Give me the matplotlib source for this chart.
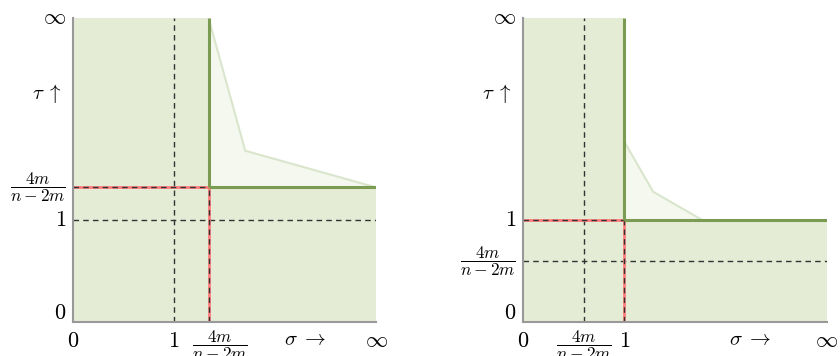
import matplotlib
matplotlib.use("Agg")
import matplotlib.pyplot as plt

plt.rcParams['mathtext.fontset'] = 'cm'
plt.rcParams['font.family'] = 'serif'
plt.rcParams['font.serif'] = ['DejaVu Serif']

FILL = '#e4ecd5'
LIGHT_FILL = '#f5f8ef'
EDGE = '#7b9b52'
CURVE = '#d9e5cc'
FRAC = r'$\dfrac{4m}{n-2m}$'

# schematic positions (axes run from 0 to "infinity" = 1)
# left panel: 1 < 4m/(n-2m)
left_one = 1 / 3
left_thr = 0.447
left_curve_x = [0.447, 0.568, 1.0]
left_curve_y = [1.0, 0.563, 0.442]
left_xticks = [0, left_one, left_thr, 1]
left_xlabels = ['$0$', '$1$', FRAC, r'$\infty$']
left_yticks = [0, left_one, 0.442, 1]
left_ylabels = ['$0$', '$1$', FRAC, r'$\infty$']

# right panel: 4m/(n-2m) < 1
right_frac = 0.2
right_thr = 1 / 3
right_curve_x = [0.333, 0.428, 0.593]
right_curve_y = [0.593, 0.428, 0.333]
right_xticks = [0, right_frac, right_thr, 1]
right_xlabels = ['$0$', FRAC, '$1$', r'$\infty$']
right_yticks = [0, right_frac, right_thr, 1]
right_ylabels = ['$0$', FRAC, '$1$', r'$\infty$']


def panel(ax, thr_x, thr_y, dash_x, dash_y, cx, cy, xt, xl, yt, yl, xoff, sigma_x):
    # L-shaped feasible region
    ax.fill([0, 1, 1, thr_x, thr_x, 0], [0, 0, thr_y, thr_y, 1, 1],
            color=FILL, lw=0, zorder=1)
    # light region under the curve
    ax.fill(list(cx) + [thr_x], list(cy) + [thr_y], color=LIGHT_FILL, lw=0, zorder=1)
    ax.plot(cx, cy, color=CURVE, lw=1.5, zorder=2)

    # dashed reference lines
    ax.axvline(dash_x, color='#333333', ls=(0, (4, 3)), lw=1.0, zorder=3)
    ax.axhline(dash_y, color='#333333', ls=(0, (4, 3)), lw=1.0, zorder=3)

    # red guide lines with dashes on top
    ax.plot([0, thr_x], [thr_y, thr_y], color='#ff7b7b', lw=2.0, zorder=3)
    ax.plot([thr_x, thr_x], [0, thr_y], color='#ff7b7b', lw=2.0, zorder=3)
    ax.plot([0, thr_x], [thr_y, thr_y], color='#333333', ls=(0, (4, 3)), lw=1.0, zorder=4)
    ax.plot([thr_x, thr_x], [0, thr_y], color='#333333', ls=(0, (4, 3)), lw=1.0, zorder=4)

    # boundary
    ax.plot([thr_x, thr_x], [1, thr_y], color=EDGE, lw=2.2, zorder=5, solid_capstyle='butt')
    ax.plot([thr_x, 1], [thr_y, thr_y], color=EDGE, lw=2.2, zorder=5, solid_capstyle='butt')

    ax.set_xlim(0, 1)
    ax.set_ylim(0, 1)
    for s in ['top', 'right']:
        ax.spines[s].set_visible(False)
    for s in ['left', 'bottom']:
        ax.spines[s].set_color('#999999')
        ax.spines[s].set_linewidth(1.5)
        ax.spines[s].set_zorder(6)
    ax.set_xticks([])
    ax.set_yticks([])

    for x, lab, dx in zip(xt, xl, xoff):
        fs = 12.5 if 'frac' in lab else 16
        dy = -5 if 'frac' in lab else -6
        ax.annotate(lab, (x, 0), xytext=(dx, dy), textcoords='offset points',
                    ha='center', va='top', fontsize=fs, annotation_clip=False)
    for y, lab in zip(yt, yl):
        fs = 12.5 if 'frac' in lab else 16
        dy = 6 if y == 0 else 0
        ax.annotate(lab, (0, y), xytext=(-5, dy), textcoords='offset points',
                    ha='right', va='center', fontsize=fs, annotation_clip=False)
    ax.annotate(r'$\sigma\;\rightarrow$', (sigma_x, 0), xytext=(0, -6),
                textcoords='offset points', ha='center', va='top', fontsize=15,
                annotation_clip=False)
    ax.annotate(r'$\tau\;\uparrow$', (0, 0.753), xytext=(-8, 0), textcoords='offset points',
                ha='right', va='center', fontsize=15, annotation_clip=False)


fig = plt.figure(figsize=(8.4, 3.56), dpi=100)
ax1 = fig.add_axes([0.0869, 0.0964, 0.361, 0.853])
ax2 = fig.add_axes([0.623, 0.0964, 0.361, 0.853])

panel(ax1, left_thr, 0.442, left_one, left_one, left_curve_x, left_curve_y,
      left_xticks, left_xlabels, left_yticks, left_ylabels, [0, 0, 8, 0], 0.766)
panel(ax2, right_thr, right_thr, right_frac, right_frac, right_curve_x, right_curve_y,
      right_xticks, right_xlabels, right_yticks, right_ylabels, [0, 0, 0, 0], 0.747)

fig.savefig('out.png', dpi=100)
